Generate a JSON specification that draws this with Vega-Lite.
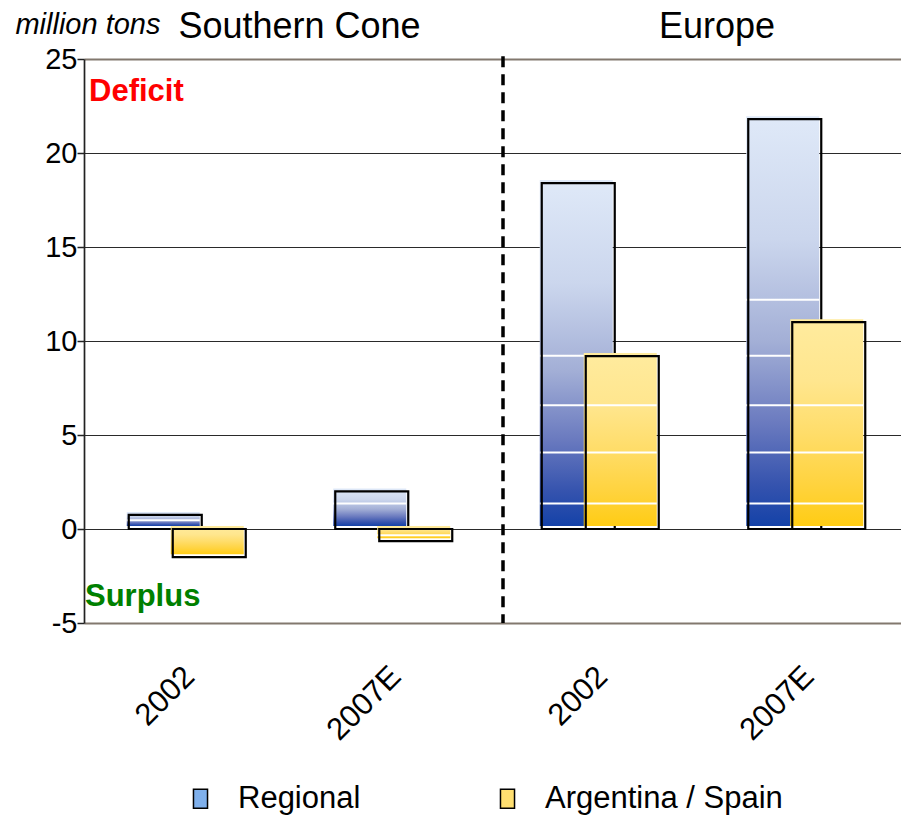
{
  "$schema": "https://vega.github.io/schema/vega-lite/v6.json",
  "width": 817,
  "height": 564,
  "autosize": {"type": "none"},
  "padding": {"left": 84, "top": 59, "right": 0, "bottom": 193},
  "background": "white",
  "config": {
    "font": "Liberation Sans",
    "view": {"stroke": null},
    "legend": {"symbolSize": 361, "padding": 0}
  },
  "datasets": {
    "balance": [
      {"region_year": "SC|2002", "series": "Regional", "tons": 0.75},
      {"region_year": "SC|2002", "series": "Argentina / Spain", "tons": -1.5},
      {"region_year": "SC|2007E", "series": "Regional", "tons": 2.0},
      {"region_year": "SC|2007E", "series": "Argentina / Spain", "tons": -0.65},
      {"region_year": "EU|2002", "series": "Regional", "tons": 18.4},
      {"region_year": "EU|2002", "series": "Argentina / Spain", "tons": 9.2},
      {"region_year": "EU|2007E", "series": "Regional", "tons": 21.8},
      {"region_year": "EU|2007E", "series": "Argentina / Spain", "tons": 11.0}
    ],
    "gradient_steps": [
      {"region_year": "SC|2002", "series": "Regional", "tons": 0.47},
      {"region_year": "SC|2007E", "series": "Regional", "tons": 1.36},
      {"region_year": "SC|2007E", "series": "Argentina / Spain", "tons": -0.33},
      {"region_year": "EU|2002", "series": "Regional", "tons": 9.22},
      {"region_year": "EU|2002", "series": "Regional", "tons": 6.58},
      {"region_year": "EU|2002", "series": "Regional", "tons": 4.07},
      {"region_year": "EU|2002", "series": "Regional", "tons": 1.36},
      {"region_year": "EU|2007E", "series": "Regional", "tons": 12.2},
      {"region_year": "EU|2007E", "series": "Regional", "tons": 9.22},
      {"region_year": "EU|2007E", "series": "Regional", "tons": 6.58},
      {"region_year": "EU|2007E", "series": "Regional", "tons": 4.07},
      {"region_year": "EU|2007E", "series": "Regional", "tons": 1.36},
      {"region_year": "EU|2002", "series": "Argentina / Spain", "tons": 6.58},
      {"region_year": "EU|2002", "series": "Argentina / Spain", "tons": 4.07},
      {"region_year": "EU|2002", "series": "Argentina / Spain", "tons": 1.36},
      {"region_year": "EU|2007E", "series": "Argentina / Spain", "tons": 6.58},
      {"region_year": "EU|2007E", "series": "Argentina / Spain", "tons": 4.07},
      {"region_year": "EU|2007E", "series": "Argentina / Spain", "tons": 1.36}
    ]
  },
  "layer": [
    {
      "data": {"name": "balance"},
      "transform": [{"filter": "datum.series === 'Regional'"}],
      "mark": {
        "type": "bar",
        "width": 73,
        "xOffset": -24,
        "yOffset": -3,
        "color": {
          "gradient": "linear", "x1": 0, "y1": 0, "x2": 0, "y2": 1,
          "stops": [
            {"offset": 0, "color": "#dfe9f8"},
            {"offset": 0.3, "color": "#cbd6ed"},
            {"offset": 0.55, "color": "#a3afd6"},
            {"offset": 0.75, "color": "#6a7abf"},
            {"offset": 0.9, "color": "#3553ae"},
            {"offset": 1, "color": "#1442a8"}
          ]
        }
      },
      "encoding": {
        "x": {
          "field": "region_year",
          "type": "nominal",
          "sort": null,
          "scale": {
            "type": "band",
            "domain": ["SC|2002", "SC|2007E", "EU|2002", "EU|2007E"],
            "range": [0, 826],
            "paddingInner": 0,
            "paddingOuter": 0
          },
          "axis": {
            "title": null,
            "domain": false,
            "ticks": false,
            "grid": false,
            "labelAngle": -45,
            "labelExpr": "split(datum.label, '|')[1]",
            "labelFontSize": 31,
            "labelColor": "#000",
            "labelPadding": 38,
            "labelOffset": -8
          }
        },
        "y": {
          "field": "tons",
          "type": "quantitative",
          "scale": {"domain": [-5, 25], "nice": false, "zero": true},
          "axis": {
            "values": [-5, 0, 5, 10, 15, 20, 25],
            "labelExpr": "'' + datum.value",
            "title": "million tons",
            "titleAngle": 0,
            "titleFontStyle": "italic",
            "titleFontWeight": "normal",
            "titleFontSize": 29,
            "titleColor": "#000",
            "titleAlign": "right",
            "titleBaseline": "alphabetic",
            "titleX": 76,
            "titleY": -26,
            "grid": true,
            "gridColor": {"condition": {"test": "datum.value === 25 || datum.value === -5", "value": "#82786e"}, "value": "#2a2a2a"},
            "gridWidth": {"condition": {"test": "datum.value === 25 || datum.value === -5", "value": 2}, "value": 1},
            "domainColor": "#222",
            "domainWidth": 1.7,
            "tickColor": "#222",
            "tickSize": 7,
            "tickWidth": 1.5,
            "labelPadding": 0,
            "labelFontSize": 29,
            "labelColor": "#000"
          }
        }
      }
    },
    {
      "data": {"name": "gradient_steps"},
      "transform": [{"filter": "datum.series === 'Regional'"}],
      "mark": {"type": "tick", "orient": "horizontal", "size": 73, "thickness": 2, "xOffset": -24, "color": "white", "opacity": 1},
      "encoding": {
        "x": {"field": "region_year", "type": "nominal"},
        "y": {"field": "tons", "type": "quantitative"}
      }
    },
    {
      "data": {"name": "balance"},
      "transform": [{"filter": "datum.series === 'Regional'"}],
      "mark": {"type": "bar", "width": 73, "xOffset": -22, "fillOpacity": 0, "stroke": "#000", "strokeWidth": 2.2},
      "encoding": {
        "x": {"field": "region_year", "type": "nominal"},
        "y": {"field": "tons", "type": "quantitative"},
        "fill": {
          "field": "series",
          "type": "nominal",
          "scale": {"domain": ["Regional", "Argentina / Spain"], "range": ["#7fb0ec", "#ffdf70"]},
          "legend": {
            "title": null,
            "orient": "none",
            "direction": "horizontal",
            "legendX": 101,
            "legendY": 724,
            "padding": 0,
            "symbolType": "M-0.74,-1H0.74V1H-0.74Z",
            "symbolSize": 361,
            "symbolStrokeColor": "#111",
            "symbolStrokeWidth": 1.5,
            "symbolOpacity": 1,
            "labelFontSize": 31,
            "labelColor": "#000",
            "labelOffset": 22,
            "labelLimit": 400,
            "columnPadding": 131
          }
        }
      }
    },
    {
      "data": {"name": "balance"},
      "transform": [{"filter": "datum.series === 'Argentina / Spain'"}],
      "mark": {
        "type": "bar",
        "width": 73,
        "xOffset": 20,
        "yOffset": -3,
        "color": {
          "gradient": "linear", "x1": 0, "y1": 0, "x2": 0, "y2": 1,
          "stops": [
            {"offset": 0, "color": "#ffeb9e"},
            {"offset": 0.3, "color": "#ffe68e"},
            {"offset": 0.55, "color": "#ffdd6a"},
            {"offset": 0.8, "color": "#ffd33e"},
            {"offset": 1, "color": "#ffcc14"}
          ]
        }
      },
      "encoding": {
        "x": {"field": "region_year", "type": "nominal"},
        "y": {"field": "tons", "type": "quantitative"}
      }
    },
    {
      "data": {"name": "gradient_steps"},
      "transform": [{"filter": "datum.series === 'Argentina / Spain'"}],
      "mark": {"type": "tick", "orient": "horizontal", "size": 73, "thickness": 2, "xOffset": 20, "color": "white", "opacity": 1},
      "encoding": {
        "x": {"field": "region_year", "type": "nominal"},
        "y": {"field": "tons", "type": "quantitative"}
      }
    },
    {
      "data": {"name": "balance"},
      "transform": [{"filter": "datum.series === 'Argentina / Spain'"}],
      "mark": {"type": "bar", "width": 73, "xOffset": 22, "fillOpacity": 0, "stroke": "#000", "strokeWidth": 2.2},
      "encoding": {
        "x": {"field": "region_year", "type": "nominal"},
        "y": {"field": "tons", "type": "quantitative"},
        "fill": {"field": "series", "type": "nominal"}
      }
    },
    {
      "data": {"values": [{"region_year": "EU|2002"}]},
      "mark": {"type": "rule", "xOffset": 6, "color": "#000", "strokeWidth": 3.5, "strokeDash": [11, 7]},
      "encoding": {
        "x": {"field": "region_year", "type": "nominal", "bandPosition": 0},
        "y": {"datum": 25.15},
        "y2": {"datum": -5}
      }
    },
    {
      "data": {"values": [{"region_year": "SC|2002"}]},
      "mark": {"type": "text", "text": "Deficit", "align": "left", "baseline": "alphabetic", "dx": 5, "fontSize": 31, "fontWeight": "bold", "color": "#ff0000"},
      "encoding": {
        "x": {"field": "region_year", "type": "nominal", "bandPosition": 0},
        "y": {"datum": 22.74}
      }
    },
    {
      "data": {"values": [{"region_year": "SC|2002"}]},
      "mark": {"type": "text", "text": "Surplus", "align": "left", "baseline": "alphabetic", "dx": 1, "fontSize": 31, "fontWeight": "bold", "color": "#008000"},
      "encoding": {
        "x": {"field": "region_year", "type": "nominal", "bandPosition": 0},
        "y": {"datum": -4.11}
      }
    },
    {
      "data": {"values": [{"region_year": "SC|2007E"}]},
      "mark": {"type": "text", "text": "Southern Cone", "align": "center", "baseline": "alphabetic", "dx": 9, "fontSize": 36, "color": "#000"},
      "encoding": {
        "x": {"field": "region_year", "type": "nominal", "bandPosition": 0},
        "y": {"datum": 26.13}
      }
    },
    {
      "data": {"values": [{"region_year": "EU|2007E"}]},
      "mark": {"type": "text", "text": "Europe", "align": "center", "baseline": "alphabetic", "dx": 13.5, "fontSize": 36, "color": "#000"},
      "encoding": {
        "x": {"field": "region_year", "type": "nominal", "bandPosition": 0},
        "y": {"datum": 26.13}
      }
    }
  ]
}
